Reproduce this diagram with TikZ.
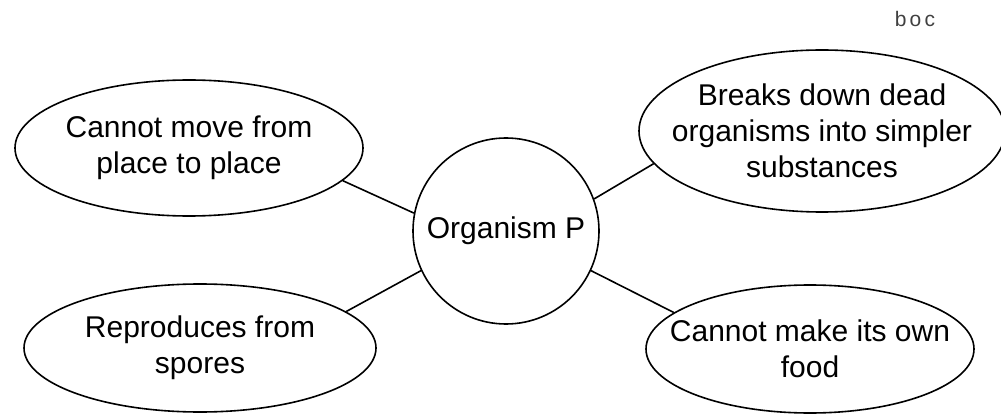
\documentclass[tikz,border=0pt]{standalone}
\usepackage{fontspec}
\setmainfont{Liberation Sans}
\newfontfamily\markfont[LetterSpace=15]{Liberation Sans}
\usetikzlibrary{shapes.geometric}
\tikzset{
	bubble/.style={ellipse, draw, line width=1.6pt, align=center,
		inner xsep=-25pt, inner ysep=-10pt,
		font=\fontsize{30}{36}\selectfont},
	hub/.style={circle, draw, line width=1.6pt, minimum size=186pt,
		inner sep=0pt, font=\fontsize{30}{36}\selectfont},
	link/.style={line width=1.6pt},
}

\begin{document}
\begin{tikzpicture}[x=1pt, y=-1pt]
\useasboundingbox (0,0) rectangle (1001,414);

\node [hub] at (506,231) (P) {Organism P};

\node [bubble, minimum width=348pt, minimum height=136pt] at (189,148) (move)
	{Cannot move from\\place to place};
\node [bubble, minimum width=366pt, minimum height=162pt] at (822,131) (decay)
	{Breaks down dead\\organisms into simpler\\substances};
\node [bubble, minimum width=352pt, minimum height=128pt] at (200,348) (spores)
	{Reproduces from\\spores};
\node [bubble, minimum width=328pt, minimum height=128pt] at (810,349) (food)
	{Cannot make its own\\food};

	%links
\foreach \a/\other/\b in {169/move/-12, 20/decay/-169, -155/spores/14, -25/food/165}
	\draw [link] (P.\a) -- (\other.\b);

\node [text=black!75, font=\markfont\fontsize{21}{22}\selectfont] at (915,19) (mark) {boc};
\end{tikzpicture}
\end{document}
